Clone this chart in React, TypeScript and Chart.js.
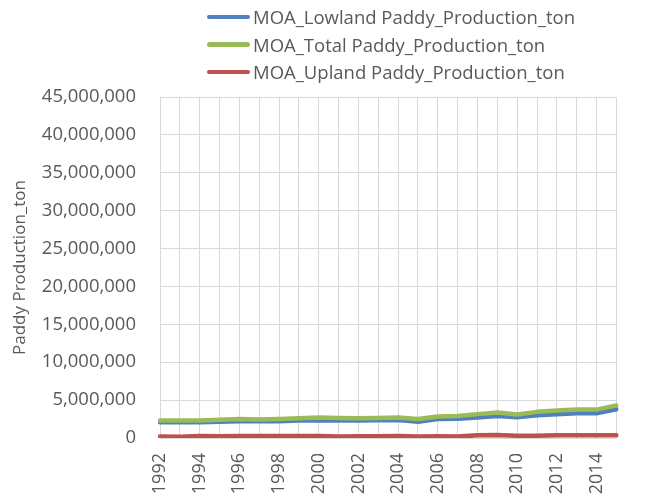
import React, { useEffect, useRef } from "react";
import { Chart, registerables } from "chart.js";

Chart.register(...registerables);

const years = [
  "1992", "1993", "1994", "1995", "1996", "1997", "1998", "1999", "2000", "2001", "2002", "2003",
  "2004", "2005", "2006", "2007", "2008", "2009", "2010", "2011", "2012", "2013", "2014", "2015",
];

const lowland = [
  2070000, 2070000, 2080000, 2150000, 2200000, 2200000, 2220000, 2300000, 2350000, 2300000, 2300000, 2330000,
  2380000, 2130000, 2500000, 2550000, 2720000, 2900000, 2750000, 3000000, 3120000, 3250000, 3270000, 3800000,
];

const total = [
  2300000, 2320000, 2300000, 2400000, 2500000, 2450000, 2500000, 2600000, 2700000, 2650000, 2600000, 2650000,
  2720000, 2500000, 2850000, 2900000, 3150000, 3350000, 3100000, 3450000, 3620000, 3750000, 3750000, 4300000,
];

const upland = [
  200000, 180000, 250000, 220000, 250000, 250000, 250000, 250000, 280000, 200000, 220000, 220000,
  250000, 200000, 230000, 200000, 350000, 380000, 300000, 300000, 350000, 350000, 350000, 350000,
];

const seriesNames = [
  "MOA_Lowland Paddy_Production_ton",
  "MOA_Total Paddy_Production_ton",
  "MOA_Upland Paddy_Production_ton",
];
const seriesColors = ["#4F81BD", "#9BBB59", "#C0504D"];

const yTitle = "Paddy Production_ton";
const yMax = 45000000;
const yStep = 5000000;

const FONT = "'Open Sans', sans-serif";
const TEXT = "#595959";
const GRID = "#d9d9d9";

export default function App() {
  const canvasRef = useRef<HTMLCanvasElement | null>(null);

  useEffect(() => {
    const canvas = canvasRef.current;
    if (!canvas) return;
    const values = [lowland, total, upland];
    const chart = new Chart(canvas, {
      type: "line",
      data: {
        labels: years,
        datasets: values.map((v, i) => ({
          label: seriesNames[i],
          data: v,
          borderColor: seriesColors[i],
          backgroundColor: seriesColors[i],
          borderWidth: 4.5,
          pointRadius: 0,
          tension: 0,
          borderJoinStyle: "round" as const,
          borderCapStyle: "round" as const,
          // later series are painted over earlier ones
          order: values.length - 1 - i,
        })),
      },
      options: {
        responsive: false,
        animation: false,
        layout: { padding: { top: 97, right: 13, left: 0, bottom: 0 } },
        plugins: {
          legend: { display: false },
          tooltip: { enabled: false },
        },
        scales: {
          x: {
            type: "category",
            offset: false,
            grid: { color: GRID, lineWidth: 1, drawTicks: false },
            border: { color: GRID },
            ticks: {
              autoSkip: false,
              minRotation: 90,
              maxRotation: 90,
              padding: 15,
              color: TEXT,
              font: { family: FONT, size: 18 },
              callback: (_v: any, idx: number) => (idx % 2 === 0 ? years[idx] : ""),
            },
            afterFit: (scale: any) => {
              scale.height = 56;
            },
          },
          y: {
            min: 0,
            max: yMax,
            grid: { color: GRID, lineWidth: 1, drawTicks: false },
            border: { color: GRID },
            ticks: {
              stepSize: yStep,
              padding: 24,
              color: TEXT,
              font: { family: FONT, size: 18.5 },
              callback: (v: any) => Number(v).toLocaleString("en-US"),
            },
            title: {
              display: true,
              text: yTitle,
              color: TEXT,
              font: { family: FONT, size: 17 },
              padding: { top: 10, bottom: 0 },
            },
            afterFit: (scale: any) => {
              scale.width = 160;
            },
          },
        },
      },
    });
    return () => chart.destroy();
  }, []);

  return (
    <div
      style={{
        position: "fixed",
        left: 0,
        top: 0,
        width: 653,
        height: 494,
        background: "#ffffff",
        overflow: "hidden",
      }}
    >
      <canvas
        ref={canvasRef}
        width={653}
        height={494}
        style={{ position: "absolute", left: 0, top: 0, width: 653, height: 494 }}
      />
      <div style={{ position: "absolute", left: 207, top: 3 }}>
        {seriesNames.map((name, i) => (
          <div
            key={name}
            style={{ display: "flex", alignItems: "center", height: 27.5 }}
          >
            <span
              style={{
                display: "inline-block",
                width: 43,
                height: 4.5,
                borderRadius: 3,
                background: seriesColors[i],
                marginRight: 3,
              }}
            />
            <span style={{ fontFamily: FONT, fontSize: 18.5, color: TEXT, whiteSpace: "nowrap" }}>
              {name}
            </span>
          </div>
        ))}
      </div>
    </div>
  );
}
